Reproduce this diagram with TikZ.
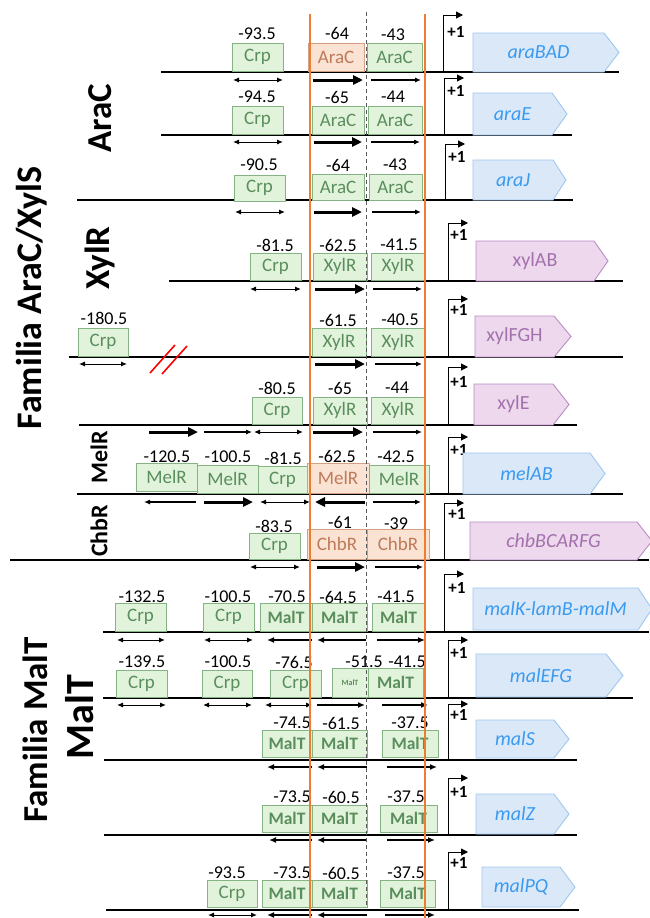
\documentclass[tikz,border=0pt]{standalone}
\usepackage{fontspec}
\setmainfont{Carlito}
\usetikzlibrary{arrows.meta}
\definecolor{gfill}{HTML}{E2F3DC}
\definecolor{gdraw}{HTML}{86B383}
\definecolor{gtext}{HTML}{5A8E5C}
\definecolor{ofill}{HTML}{FBE3D3}
\definecolor{odraw}{HTML}{D4A084}
\definecolor{otext}{HTML}{BE7A5A}
\definecolor{bfill}{HTML}{DAE8F7}
\definecolor{bdraw}{HTML}{9FC8F0}
\definecolor{btext}{HTML}{3A9AF0}
\definecolor{pfill}{HTML}{EDD8EE}
\definecolor{pdraw}{HTML}{B98DC2}
\definecolor{ptext}{HTML}{A371AC}
\definecolor{orangeln}{HTML}{ED7D31}
\tikzset{
 dna/.style={line width=1.4pt, black},
 sitebox/.style={draw=gdraw, fill=gfill, text=gtext, line width=0.9pt, inner sep=0pt, font=\fontsize{19}{21}\selectfont},
 osite/.style={sitebox, draw=odraw, fill=ofill, text=otext},
 msite/.style={sitebox, font=\fontsize{17.5}{20}\selectfont\bfseries},
 ssite/.style={sitebox, font=\fontsize{8}{9}\selectfont\bfseries},
 num/.style={inner sep=0pt, font=\fontsize{18}{20}\selectfont},
 plus/.style={inner sep=0pt, font=\fontsize{17}{19}\selectfont\bfseries},
 promline/.style={line width=1pt, -{Triangle[length=7pt,width=7pt]}},
 sarrow/.style={line width=1.1pt, -{Latex[length=6pt,width=5pt]}},
 barrow/.style={line width=3pt, -{Triangle[length=10pt,width=9pt]}},
 marrow/.style={line width=1.8pt, -{Latex[length=7pt,width=6pt]}},
 darrow/.style={line width=1pt, {Latex[length=6pt,width=5pt]}-{Latex[length=6pt,width=5pt]}},
 bgene/.style={draw=bdraw, fill=bfill, line width=0.9pt},
 pgene/.style={draw=pdraw, fill=pfill, line width=0.9pt},
 bgenetext/.style={text=btext, font=\fontsize{20}{22}\selectfont\itshape, inner sep=0pt},
 pgenetext/.style={text=ptext, font=\fontsize{20}{22}\selectfont, inner sep=0pt},
 fam/.style={rotate=90, inner sep=0pt, font=\fontsize{36}{40}\selectfont\bfseries},
 famm/.style={rotate=90, inner sep=0pt, font=\fontsize{35}{40}\selectfont\bfseries},
 sublab/.style={rotate=90, inner sep=0pt, font=\fontsize{35}{38}\selectfont\bfseries},
 sublabm/.style={rotate=90, inner sep=0pt, font=\fontsize{40}{44}\selectfont\bfseries},
 sublabs/.style={rotate=90, inner sep=0pt, font=\fontsize{24}{28}\selectfont\bfseries},
 vdash/.style={line width=1pt, black!65, dash pattern=on 4pt off 3pt},
 oline/.style={line width=2.6pt, draw=orangeln},
 slash/.style={line width=1.6pt, red},
}
\newcommand\bsite[7]{\node[#1, minimum width={(#5-#3)*1pt}, minimum height={(#6-#4)*1pt}] (#2) at ({(#3+#5)/2},{(#4+#6)/2}) {#7};}
\newcommand\genearr[8]{\draw[#6] (#1,#4) -- (#2,#4) -- (#3,{(#4+#5)/2}) -- (#2,#5) -- (#1,#5) -- cycle; \node[#6text] (#7) at ({(#1+#2)/2},{(#4+#5)/2}) {#8};}
\newcommand\promo[3]{\draw[promline] (#1,#2) -- (#1,#3) -- ({#1+20},#3);}
\begin{document}
\begin{tikzpicture}[x=1pt,y=-1pt]
\fill[white] (0,0) rectangle (649,918);
\useasboundingbox (0,0) rectangle (649,918);

% ---------- Row 1 araBAD
\draw[dna] (161,72) -- (619,72);
\bsite{sitebox}{r1a}{232}{43}{283}{71}{Crp}
\bsite{osite}{r1b}{308}{43}{364}{71}{AraC}
\bsite{sitebox}{r1c}{367}{43}{422}{71}{AraC}
\node[num] (n1a) at (257,34) {-93.5};
\node[num] (n1b) at (337,33) {-64};
\node[num] (n1c) at (393,35) {-43};
\draw[darrow] (233,80) -- (283,80);
\draw[barrow] (313,80) -- (363,80);
\draw[sarrow] (371,80) -- (421,80);
\promo{443}{72}{15}
\node[plus] (p1) at (456,32) {+1};
\genearr{473}{604}{619}{33}{72}{bgene}{g1}{araBAD}

% ---------- Row 2 araE
\draw[dna] (161,135) -- (572,135);
\bsite{sitebox}{r2a}{232}{106}{283}{134}{Crp}
\bsite{sitebox}{r2b}{312}{106}{364}{134}{AraC}
\bsite{sitebox}{r2c}{368}{106}{422}{134}{AraC}
\node[num] (n2a) at (257,97) {-94.5};
\node[num] (n2b) at (337,97) {-65};
\node[num] (n2c) at (393,97) {-44};
\draw[darrow] (233,142) -- (283,142);
\draw[barrow] (314,142) -- (362,142);
\draw[sarrow] (371,142) -- (420,142);
\promo{444}{135}{78}
\node[plus] (p2) at (456,91) {+1};
\genearr{473}{552}{567}{93}{135}{bgene}{g2}{araE}

% ---------- Row 3 araJ
\draw[dna] (77,200) -- (573,200);
\bsite{sitebox}{r3a}{234}{175}{285}{201}{Crp}
\bsite{sitebox}{r3b}{312}{174}{364}{200}{AraC}
\bsite{sitebox}{r3c}{369}{174}{422}{200}{AraC}
\node[num] (n3a) at (259,165) {-90.5};
\node[num] (n3b) at (338,165) {-64};
\node[num] (n3c) at (395,165) {-43};
\draw[darrow] (235,212) -- (285,212);
\draw[barrow] (314,212) -- (362,212);
\draw[sarrow] (372,212) -- (421,212);
\promo{445}{200}{144}
\node[plus] (p3) at (457,157) {+1};
\genearr{473}{553}{566}{160}{200}{bgene}{g3}{araJ}

% ---------- Row 4 xylAB
\draw[dna] (169,281) -- (623,281);
\bsite{sitebox}{r4a}{250}{253}{301}{280}{Crp}
\bsite{sitebox}{r4b}{313}{253}{367}{280}{XylR}
\bsite{sitebox}{r4c}{371}{253}{425}{280}{XylR}
\node[num] (n4a) at (275,245) {-81.5};
\node[num] (n4b) at (338,245) {-62.5};
\node[num] (n4c) at (399,245) {-41.5};
\draw[darrow] (250,289) -- (301,289);
\draw[barrow] (315,289) -- (365,289);
\draw[sarrow] (373,289) -- (422,289);
\promo{448}{281}{223}
\node[plus] (p4) at (459,235) {+1};
\genearr{476}{594}{608}{241}{281}{pgene}{g4}{xylAB}

% ---------- Row 5 xylFGH
\draw[dna] (69,357) -- (623,357);
\bsite{sitebox}{r5a}{78}{328}{128}{356}{Crp}
\bsite{sitebox}{r5b}{312}{328}{366}{356}{XylR}
\bsite{sitebox}{r5c}{371}{328}{425}{356}{XylR}
\node[num] (n5a) at (104,318) {-180.5};
\node[num] (n5b) at (338,320) {-61.5};
\node[num] (n5c) at (400,320) {-40.5};
\draw[darrow] (79,364) -- (127,364);
\draw[barrow] (315,364) -- (365,364);
\draw[sarrow] (375,364) -- (422,364);
\draw[slash] (150,373) -- (175,345);
\draw[slash] (162,374) -- (187,346);
\promo{448}{357}{299}
\node[plus] (p5) at (459,310) {+1};
\genearr{475}{554}{571}{316}{357}{pgene}{g5}{xylFGH}

% ---------- Row 6 xylE
\draw[dna] (79,425) -- (577,425);
\bsite{sitebox}{r6a}{252}{397}{302}{424}{Crp}
\bsite{sitebox}{r6b}{313}{397}{367}{424}{XylR}
\bsite{sitebox}{r6c}{371}{397}{425}{424}{XylR}
\node[num] (n6a) at (277,388) {-80.5};
\node[num] (n6b) at (340,388) {-65};
\node[num] (n6c) at (397,388) {-44};
\draw[barrow] (149,432) -- (198,432);
\draw[sarrow] (204,432) -- (252,432);
\draw[darrow] (254,432) -- (303,432);
\draw[barrow] (313,432) -- (363,432);
\draw[sarrow] (373,432) -- (422,432);
\promo{448}{425}{367}
\node[plus] (p6) at (459,382) {+1};
\genearr{474}{553}{569}{384}{425}{pgene}{g6}{xylE}

% ---------- Row 7 melAB
\draw[dna] (77,494) -- (623,494);
\bsite{sitebox}{r7a}{136}{463}{197}{491}{MelR}
\bsite{sitebox}{r7b}{197}{465}{258}{493}{MelR}
\bsite{sitebox}{r7c}{258}{466}{307}{493}{Crp}
\bsite{osite}{r7d}{307}{463}{369}{493}{MelR}
\bsite{sitebox}{r7e}{369}{465}{429}{493}{MelR}
\node[num] (n7a) at (167,457) {-120.5};
\node[num] (n7b) at (228,457) {-100.5};
\node[num] (n7c) at (283,458) {-81.5};
\node[num] (n7d) at (337,456) {-62.5};
\node[num] (n7e) at (396,457) {-42.5};
\draw[sarrow] (196,502) -- (144,502);
\draw[barrow] (204,502) -- (253,502);
\draw[darrow] (260,502) -- (310,502);
\draw[barrow] (365,502) -- (315,502);
\draw[sarrow] (373,502) -- (421,502);
\promo{448}{494}{437}
\node[plus] (p7) at (459,450) {+1};
\genearr{463}{590}{605}{453}{494}{bgene}{g7}{melAB}

% ---------- Row 8 chbBCARFG
\draw[dna] (10,560) -- (649,560);
\bsite{sitebox}{r8a}{249}{533}{300}{559}{Crp}
\bsite{osite}{r8b}{307}{529}{367}{559}{ChbR}
\bsite{osite}{r8c}{367}{529}{429}{559}{ChbR}
\node[num] (n8a) at (274,526) {-83.5};
\node[num] (n8b) at (340,522) {-61};
\node[num] (n8c) at (396,524) {-39};
\draw[darrow] (250,567) -- (300,567);
\draw[barrow] (317,567) -- (365,567);
\draw[sarrow] (375,567) -- (423,567);
\promo{444}{560}{503}
\node[plus] (p8) at (457,514) {+1};
\genearr{470}{637}{652}{522}{560}{pgene}{g8}{\itshape chbBCARFG}

% ---------- Row 9 malK-lamB-malM
\draw[dna] (103,632) -- (649,632);
\bsite{sitebox}{r9a}{115}{603}{166}{631}{Crp}
\bsite{sitebox}{r9b}{203}{603}{254}{631}{Crp}
\bsite{msite}{r9c}{260}{603}{312}{631}{MalT}
\bsite{msite}{r9d}{312}{603}{367}{631}{MalT}
\bsite{msite}{r9e}{372}{603}{425}{631}{MalT}
\node[num] (n9a) at (142,597) {-132.5};
\node[num] (n9b) at (228,597) {-100.5};
\node[num] (n9c) at (287,597) {-70.5};
\node[num] (n9d) at (338,597) {-64.5};
\node[num] (n9e) at (396,597) {-41.5};
\draw[darrow] (117,640) -- (165,640);
\draw[darrow] (204,640) -- (253,640);
\draw[marrow] (312,640) -- (267,640);
\draw[marrow] (366,640) -- (317,640);
\draw[marrow] (377,640) -- (425,640);
\promo{444}{632}{574}
\node[plus] (p9) at (457,588) {+1};
\genearr{473}{638}{652}{588}{630}{bgene}{g9}{malK-lamB-malM}

% ---------- Row 10 malEFG
\draw[dna] (103,698) -- (633,698);
\bsite{sitebox}{r10a}{116}{670}{167}{697}{Crp}
\bsite{sitebox}{r10b}{202}{670}{252}{697}{Crp}
\bsite{sitebox}{r10c}{270}{670}{321}{697}{Crp}
\bsite{ssite}{r10d}{332}{668}{368}{697}{MalT}
\bsite{msite}{r10e}{368}{668}{423}{697}{MalT}
\node[num] (n10a) at (142,662) {-139.5};
\node[num] (n10b) at (228,662) {-100.5};
\node[num] (n10c) at (294,662) {-76.5};
\node[num] (n10d) at (364,662) {-51.5};
\node[num] (n10e) at (407,662) {-41.5};
\draw[darrow] (117,705) -- (166,705);
\draw[darrow] (203,705) -- (252,705);
\draw[darrow] (265,705) -- (312,705);
\draw[marrow] (317,705) -- (365,705);
\draw[marrow] (382,705) -- (428,705);
\promo{448}{698}{640}
\node[plus] (p10) at (459,653) {+1};
\genearr{476}{606}{623}{654}{697}{bgene}{g10}{malEFG}

% ---------- Row 11 malS
\draw[dna] (104,760) -- (577,760);
\bsite{msite}{r11a}{262}{730}{312}{757}{MalT}
\bsite{msite}{r11b}{312}{730}{367}{757}{MalT}
\bsite{msite}{r11c}{382}{730}{438}{757}{MalT}
\node[num] (n11a) at (292,723) {-74.5};
\node[num] (n11b) at (341,723) {-61.5};
\node[num] (n11c) at (410,723) {-37.5};
\draw[marrow] (312,767) -- (267,767);
\draw[marrow] (367,767) -- (317,767);
\draw[marrow] (387,767) -- (437,767);
\promo{448}{760}{704}
\node[plus] (p11) at (459,715) {+1};
\genearr{476}{554}{569}{720}{758}{bgene}{g11}{malS}

% ---------- Row 12 malZ
\draw[dna] (104,835) -- (577,835);
\bsite{msite}{r12a}{262}{805}{312}{832}{MalT}
\bsite{msite}{r12b}{312}{805}{367}{832}{MalT}
\bsite{msite}{r12c}{380}{805}{437}{832}{MalT}
\node[num] (n12a) at (292,797) {-73.5};
\node[num] (n12b) at (341,797) {-60.5};
\node[num] (n12c) at (406,797) {-37.5};
\draw[marrow] (312,840) -- (269,840);
\draw[marrow] (367,840) -- (317,840);
\draw[marrow] (387,840) -- (435,840);
\promo{448}{835}{778}
\node[plus] (p12) at (459,792) {+1};
\genearr{476}{554}{569}{794}{834}{bgene}{g12}{malZ}

% ---------- Row 13 malPQ
\draw[dna] (106,910) -- (579,910);
\bsite{sitebox}{r13a}{207}{880}{257}{907}{Crp}
\bsite{msite}{r13b}{262}{880}{312}{907}{MalT}
\bsite{msite}{r13c}{312}{880}{367}{907}{MalT}
\bsite{msite}{r13d}{380}{880}{435}{907}{MalT}
\node[num] (n13a) at (227,873) {-93.5};
\node[num] (n13b) at (292,873) {-73.5};
\node[num] (n13c) at (341,873) {-60.5};
\node[num] (n13d) at (406,873) {-37.5};
\draw[darrow] (208,915) -- (257,915);
\draw[marrow] (312,915) -- (267,915);
\draw[marrow] (367,915) -- (317,915);
\draw[marrow] (385,915) -- (435,915);
\promo{448}{910}{852}
\node[plus] (p13) at (459,863) {+1};
\genearr{482}{560}{575}{867}{907}{bgene}{g13}{malPQ}

% ---------- reference lines
\draw[vdash] (366,12) -- (366,905);
\draw[oline] (310,14) -- (310,918);
\draw[oline] (425,14) -- (425,918);

% ---------- left labels
\node[fam] (famA) at (32,298) {Familia AraC/XylS};
\node[sublab] (lAraC) at (100,118) {AraC};
\node[sublab] (lXylR) at (100,258) {XylR};
\node[sublabs] (lMelR) at (99,457) {MelR};
\node[sublabs] (lChbR) at (99,531) {ChbR};
\node[famm] (famM) at (35,730) {Familia MalT};
\node[sublabm] (lMalT) at (80,717) {MalT};
\end{tikzpicture}
\end{document}
